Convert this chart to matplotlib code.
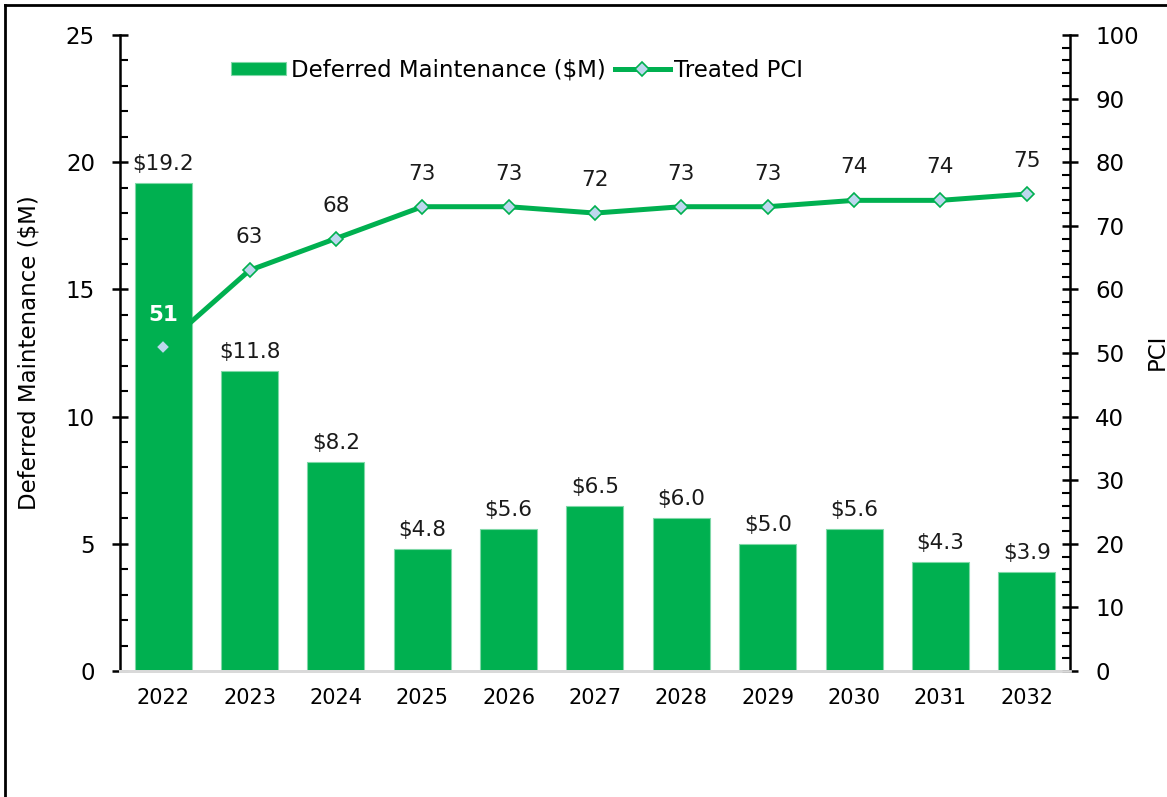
import matplotlib.pyplot as plt
from matplotlib.lines import Line2D
from matplotlib.ticker import MultipleLocator
import numpy as np

years = ["2022", "2023", "2024", "2025", "2026", "2027", "2028", "2029", "2030", "2031", "2032"]
deferred = [19.2, 11.8, 8.2, 4.8, 5.6, 6.5, 6.0, 5.0, 5.6, 4.3, 3.9]
pci = [51, 63, 68, 73, 73, 72, 73, 73, 74, 74, 75]

green = "#00B050"
marker_fill = "#BDD7EE"

plt.rcParams['font.family'] = ['DejaVu Sans']

fig = plt.figure(figsize=(11.67, 7.97), dpi=100)
ax = fig.add_axes([0.1028, 0.1581, 0.8141, 0.798])
ax2 = ax.twinx()

x = np.arange(len(years))
ax.bar(x, deferred, width=0.66, color=green, edgecolor="#7FD8A7", linewidth=0.8,
       label="Deferred Maintenance ($M)", zorder=2)
for xi, v in zip(x, deferred):
    ax.text(xi, v + 0.35, f"${v:.1f}", ha="center", va="bottom", fontsize=15.5, color="#1a1a1a")

ax2.plot(x, pci, color=green, lw=3.6, marker="D", markersize=7.5, markerfacecolor=marker_fill,
         markeredgecolor=green, markeredgewidth=1.2, label="Treated PCI", zorder=3)
for i, (xi, v) in enumerate(zip(x, pci)):
    if i == 0:
        ax2.text(xi, v + 3.4, f"{v}", ha="center", va="bottom", fontsize=15.5, color="white",
                 fontweight="bold")
    else:
        ax2.text(xi, v + 3.6, f"{v}", ha="center", va="bottom", fontsize=15.5, color="#1a1a1a")

ax.set_xlim(-0.5, len(years) - 0.5)
ax.set_ylim(0, 25)
ax2.set_ylim(0, 100)
ax.set_xticks(x)
ax.set_xticklabels(years)
ax.yaxis.set_major_locator(MultipleLocator(5))
ax.yaxis.set_minor_locator(MultipleLocator(1))
ax2.yaxis.set_major_locator(MultipleLocator(10))
ax2.yaxis.set_minor_locator(MultipleLocator(2))

ax.set_ylabel("Deferred Maintenance ($M)", fontsize=16.5, labelpad=18)
fig.text(1157 / 1167, 1 - 352 / 797, "PCI", rotation=90, ha="center", va="center", fontsize=16.5)

for a in (ax, ax2):
    a.spines["top"].set_visible(False)
    a.spines["bottom"].set_color("#D9D9D9")
    a.spines["bottom"].set_linewidth(2)
    a.spines["left"].set_linewidth(1.8)
    a.spines["right"].set_linewidth(1.8)
    a.tick_params(axis="y", which="major", direction="inout", length=12, width=1.8, labelsize=16.5, pad=12)
    a.tick_params(axis="y", which="minor", direction="in", length=6, width=1.5)
ax2.tick_params(axis="y", which="major", pad=12)
ax.tick_params(axis="x", length=0, labelsize=15, pad=12)
ax2.spines["left"].set_visible(False)
ax.spines["right"].set_visible(False)
ax.set_zorder(ax2.get_zorder() - 1)
ax2.patch.set_visible(False)

h1, l1 = ax.get_legend_handles_labels()
h2, l2 = ax2.get_legend_handles_labels()
ax2.legend(h1 + h2, l1 + l2, loc="upper center", bbox_to_anchor=(0.418, 0.995), ncol=2, frameon=False,
           fontsize=16.5, handlelength=2.4, handletextpad=0.2, columnspacing=0.4, handleheight=0.5)

# frame edges of the original chart area
fig.add_artist(Line2D([0.0045, 0.0045], [0, 0.994], transform=fig.transFigure, color="black", lw=2))
fig.add_artist(Line2D([0.0045, 1.0], [0.994, 0.994], transform=fig.transFigure, color="black", lw=2))

fig.savefig("out.png", dpi=100)
